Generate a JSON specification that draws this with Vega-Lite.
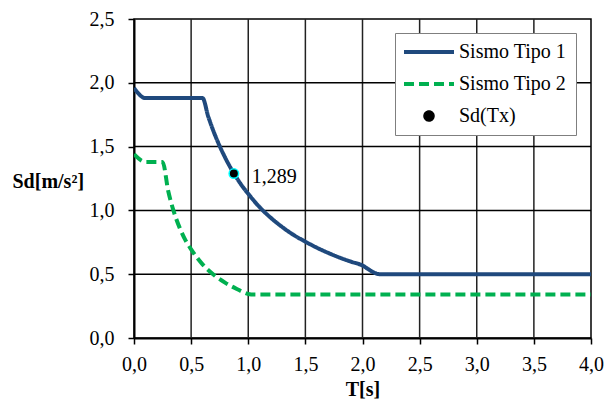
{
  "$schema": "https://vega.github.io/schema/vega-lite/v6.json",
  "autosize": {"type": "none"},
  "padding": {"left": 134, "top": 19, "right": 15, "bottom": 64},
  "width": 457,
  "height": 319,
  "background": "white",
  "config": {
    "font": "Liberation Serif",
    "view": {"stroke": "#000000", "strokeWidth": 1.5, "strokeOpacity": 1},
    "axis": {
      "labelFont": "Liberation Serif",
      "labelFontSize": 20,
      "labelColor": "black",
      "titleFont": "Liberation Serif",
      "titleFontSize": 20,
      "titleFontWeight": "bold",
      "titleColor": "black",
      "grid": false,
      "domainColor": "black",
      "domainWidth": 2,
      "tickColor": "black",
      "tickWidth": 1.5,
      "tickSize": 6
    }
  },
  "datasets": {
    "xgrid": [{"T": 0.5}, {"T": 1.0}, {"T": 1.5}, {"T": 2.0}, {"T": 2.5}, {"T": 3.0}, {"T": 3.5}],
    "ygrid": [{"Sd": 0.5}, {"Sd": 1.0}, {"Sd": 1.5}, {"Sd": 2.0}],
    "curves": [
      {"T": 0.0, "Sd": 1.96, "series": "Sismo Tipo 1"},
      {"T": 0.1, "Sd": 1.88, "series": "Sismo Tipo 1"},
      {"T": 0.6, "Sd": 1.88, "series": "Sismo Tipo 1"},
      {"T": 0.65, "Sd": 1.735, "series": "Sismo Tipo 1"},
      {"T": 0.7, "Sd": 1.611, "series": "Sismo Tipo 1"},
      {"T": 0.75, "Sd": 1.504, "series": "Sismo Tipo 1"},
      {"T": 0.8, "Sd": 1.41, "series": "Sismo Tipo 1"},
      {"T": 0.85, "Sd": 1.327, "series": "Sismo Tipo 1"},
      {"T": 0.9, "Sd": 1.253, "series": "Sismo Tipo 1"},
      {"T": 0.95, "Sd": 1.187, "series": "Sismo Tipo 1"},
      {"T": 1.0, "Sd": 1.13, "series": "Sismo Tipo 1"},
      {"T": 1.1, "Sd": 1.025, "series": "Sismo Tipo 1"},
      {"T": 1.2, "Sd": 0.94, "series": "Sismo Tipo 1"},
      {"T": 1.3, "Sd": 0.868, "series": "Sismo Tipo 1"},
      {"T": 1.4, "Sd": 0.806, "series": "Sismo Tipo 1"},
      {"T": 1.5, "Sd": 0.755, "series": "Sismo Tipo 1"},
      {"T": 1.6, "Sd": 0.708, "series": "Sismo Tipo 1"},
      {"T": 1.7, "Sd": 0.667, "series": "Sismo Tipo 1"},
      {"T": 1.8, "Sd": 0.63, "series": "Sismo Tipo 1"},
      {"T": 1.9, "Sd": 0.598, "series": "Sismo Tipo 1"},
      {"T": 2.0, "Sd": 0.568, "series": "Sismo Tipo 1"},
      {"T": 2.05, "Sd": 0.54, "series": "Sismo Tipo 1"},
      {"T": 2.1, "Sd": 0.513, "series": "Sismo Tipo 1"},
      {"T": 2.15, "Sd": 0.5, "series": "Sismo Tipo 1"},
      {"T": 2.5, "Sd": 0.5, "series": "Sismo Tipo 1"},
      {"T": 3.0, "Sd": 0.5, "series": "Sismo Tipo 1"},
      {"T": 4.0, "Sd": 0.5, "series": "Sismo Tipo 1"},
      {"T": 0.0, "Sd": 1.44, "series": "Sismo Tipo 2"},
      {"T": 0.1, "Sd": 1.38, "series": "Sismo Tipo 2"},
      {"T": 0.25, "Sd": 1.38, "series": "Sismo Tipo 2"},
      {"T": 0.3, "Sd": 1.15, "series": "Sismo Tipo 2"},
      {"T": 0.35, "Sd": 0.986, "series": "Sismo Tipo 2"},
      {"T": 0.4, "Sd": 0.863, "series": "Sismo Tipo 2"},
      {"T": 0.45, "Sd": 0.767, "series": "Sismo Tipo 2"},
      {"T": 0.5, "Sd": 0.695, "series": "Sismo Tipo 2"},
      {"T": 0.6, "Sd": 0.577, "series": "Sismo Tipo 2"},
      {"T": 0.7, "Sd": 0.494, "series": "Sismo Tipo 2"},
      {"T": 0.8, "Sd": 0.432, "series": "Sismo Tipo 2"},
      {"T": 0.9, "Sd": 0.384, "series": "Sismo Tipo 2"},
      {"T": 1.0, "Sd": 0.345, "series": "Sismo Tipo 2"},
      {"T": 1.05, "Sd": 0.34, "series": "Sismo Tipo 2"},
      {"T": 2.0, "Sd": 0.34, "series": "Sismo Tipo 2"},
      {"T": 3.0, "Sd": 0.34, "series": "Sismo Tipo 2"},
      {"T": 4.0, "Sd": 0.34, "series": "Sismo Tipo 2"}
    ],
    "point": [
      {"T": 0.874, "Sd": 1.289, "label": "1,289"}
    ]
  },
  "layer": [
    {
      "data": {"name": "xgrid"},
      "mark": {"type": "rule", "stroke": "#222222", "strokeWidth": 1.5, "opacity": 1},
      "encoding": {
        "x": {
          "field": "T", "type": "quantitative",
          "scale": {"domain": [0, 4], "nice": false, "zero": false},
          "axis": {
            "title": "T[s]",
            "values": [0, 0.5, 1, 1.5, 2, 2.5, 3, 3.5, 4],
            "labelExpr": "replace(format(datum.value, '.1f'), '.', ',')",
            "labelPadding": 10,
            "labelFlush": false,
            "titleBaseline": "middle",
            "titleY": 51
          }
        }
      }
    },
    {
      "data": {"name": "ygrid"},
      "mark": {"type": "rule", "stroke": "#000000", "strokeWidth": 1.5, "opacity": 1},
      "encoding": {
        "y": {
          "field": "Sd", "type": "quantitative",
          "scale": {"domain": [0, 2.5], "nice": false},
          "axis": {
            "title": "Sd[m/s²]",
            "values": [0, 0.5, 1, 1.5, 2, 2.5],
            "labelExpr": "replace(format(datum.value, '.1f'), '.', ',')",
            "labelPadding": 14,
            "labelFlush": false,
            "titleAngle": 0,
            "titleAlign": "left",
            "titleBaseline": "middle",
            "titleX": -122,
            "titleY": 162
          }
        }
      }
    },
    {
      "data": {"name": "curves"},
      "mark": {"type": "line", "strokeWidth": 4, "interpolate": "monotone", "clip": true},
      "encoding": {
        "x": {"field": "T", "type": "quantitative", "axis": {"title": "T[s]"}},
        "y": {"field": "Sd", "type": "quantitative", "axis": {"title": "Sd[m/s²]"}},
        "color": {
          "field": "series", "type": "nominal",
          "scale": {"domain": ["Sismo Tipo 1", "Sismo Tipo 2", "Sd(Tx)"], "range": ["#1F497D", "#00B050", "#000000"]},
          "legend": {
            "title": null,
            "orient": "none",
            "legendX": 261,
            "legendY": 14,
            "padding": 9,
            "strokeColor": "#7F7F7F",
            "fillColor": "white",
            "labelFont": "Liberation Serif",
            "labelFontSize": 20,
            "labelColor": "black",
            "labelOffset": 20,
            "symbolOffset": 15,
            "symbolSize": 100,
            "symbolStrokeWidth": 4,
            "rowPadding": 12,
            "encode": {
              "symbols": {
                "update": {
                  "shape": {"signal": "datum.value === 'Sd(Tx)' ? 'circle' : 'M-5,0H5'"},
                  "strokeDash": {"signal": "datum.value === 'Sismo Tipo 2' ? [10, 5] : [1, 0]"},
                  "strokeWidth": {"signal": "datum.value === 'Sd(Tx)' ? 1.5 : 4"},
                  "stroke": {"signal": "datum.value === 'Sismo Tipo 1' ? '#1F497D' : datum.value === 'Sismo Tipo 2' ? '#00B050' : '#00FFFF'"},
                  "fill": {"signal": "datum.value === 'Sd(Tx)' ? 'black' : 'transparent'"},
                  "opacity": {"value": 1}
                }
              }
            }
          }
        },
        "strokeDash": {
          "field": "series", "type": "nominal",
          "scale": {"domain": ["Sismo Tipo 1", "Sismo Tipo 2"], "range": [[1, 0], [10, 5]]},
          "legend": null
        }
      }
    },
    {
      "data": {"name": "point"},
      "mark": {"type": "point", "filled": true, "fill": "black", "stroke": "#00FFFF", "strokeWidth": 1.5, "size": 90, "opacity": 1, "shape": "circle"},
      "encoding": {
        "x": {"field": "T", "type": "quantitative"},
        "y": {"field": "Sd", "type": "quantitative"}
      }
    },
    {
      "data": {"name": "point"},
      "mark": {"type": "text", "align": "left", "baseline": "middle", "dx": 18, "dy": 3, "fontSize": 20, "color": "black"},
      "encoding": {
        "x": {"field": "T", "type": "quantitative"},
        "y": {"field": "Sd", "type": "quantitative"},
        "text": {"field": "label"}
      }
    }
  ]
}
